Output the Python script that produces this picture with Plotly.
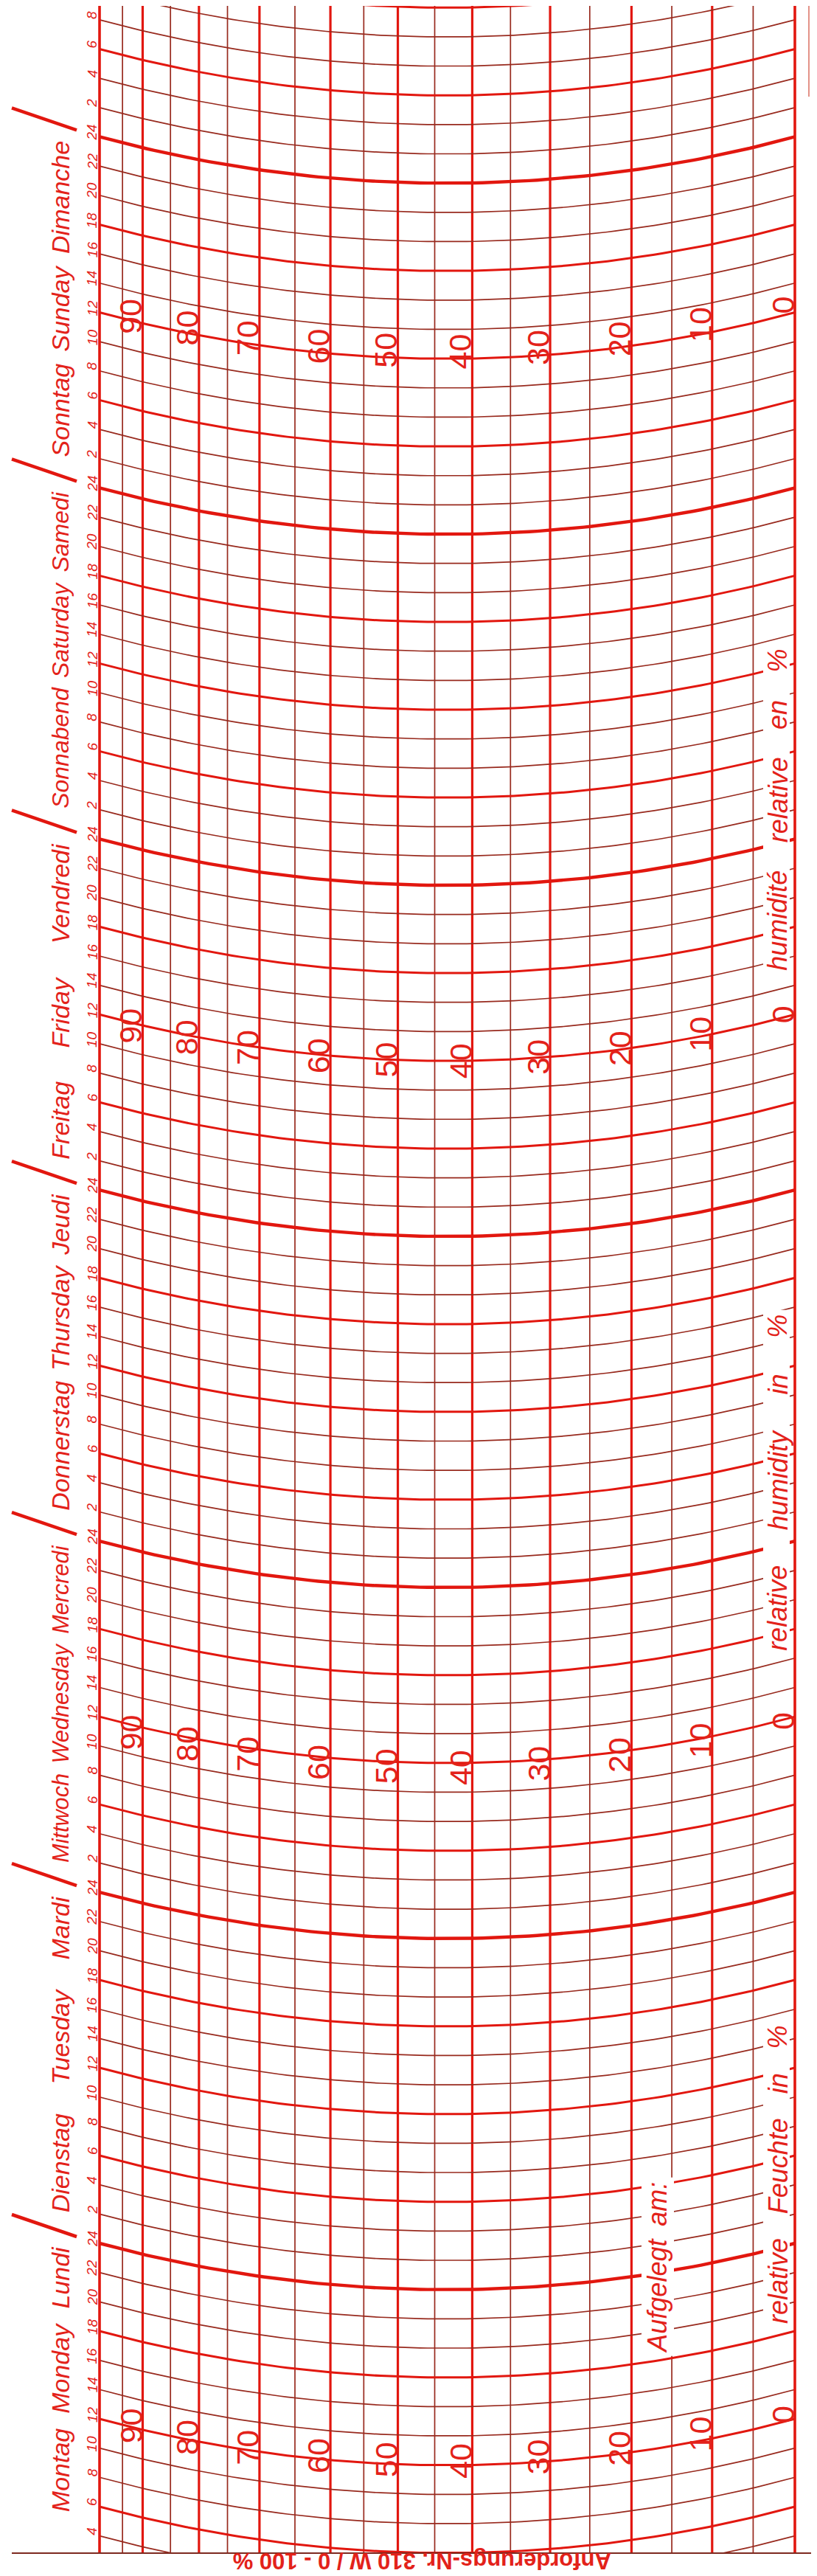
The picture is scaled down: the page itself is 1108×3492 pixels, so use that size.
import numpy as np
import plotly.graph_objects as go

# ---- values read off the hygrograph strip ----
# printed humidity scale (%) and where each line sits across the strip (0 = left edge, 1 = right edge)
humidity = [100, 95, 90, 85, 80, 75, 70, 65, 60, 55, 50, 45, 40, 35, 30, 25, 20, 15, 10, 5, 0]
scale_pos = [0.0, 0.033, 0.062, 0.102, 0.143, 0.184, 0.230, 0.281, 0.332, 0.380, 0.429,
             0.482, 0.536, 0.591, 0.648, 0.705, 0.765, 0.823, 0.881, 0.940, 1.0]

# time arcs every 2 h, counted in hours from Monday 0:00
time_lines = list(range(0, 188, 2))
hour_labels = list(range(4, 178, 2))

day_words = [
    ["Montag", "Monday", "Lundi"],
    ["Dienstag", "Tuesday", "Mardi"],
    ["Mittwoch", "Wednesday", "Mercredi"],
    ["Donnerstag", "Thursday", "Jeudi"],
    ["Freitag", "Friday", "Vendredi"],
    ["Sonnabend", "Saturday", "Samedi"],
    ["Sonntag", "Sunday", "Dimanche"],
]
day_name_start = [5.6, 26.1, 50.0, 74.1, 98.1, 122.1, 146.1]
day_name_end = [23.75, 47.7, 71.7, 95.7, 119.7, 143.7, 167.7]

scale_numbers = [90, 80, 70, 60, 50, 40, 30, 20, 10, 0]
scale_number_rows = [12.3, 59.7, 108.0, 156.5]

side_words = [
    ["Aufgelegt", "am:"],
    ["relative", "Feuchte", "in", "%"],
    ["relative", "humidity", "in", "%"],
    ["humidité", "relative", "en", "%"],
]
side_start = [16.6, 18.5, 64.5, 111.0]
side_end = [28.2, 38.9, 87.5, 133.0]

footer = "Anforderungs-Nr. 310 W / 0 - 100 %"

# ---- page geometry (pixels of the scan) ----
FIG_W, FIG_H = 1108, 3492
GRID_X0, GRID_W = 127, 943
PLOT_BOTTOM = 3453
PX_PER_H = 19.83
MON24_Y = 3033
ARC_R = 1800.0

HEAVY = "#e2170f"
THIN = "#982a1e"
TEXT = "#e3221a"
FONT = "Liberation Sans, Arial, sans-serif"

# Liberation Sans advance widths (em) for the printed words
CHAR_W = dict(zip("ABCDEFGHIJKLMNOPQRSTUVWXYZ",
                  [.667, .667, .722, .722, .667, .611, .778, .722, .278, .5, .667, .556, .833,
                   .722, .778, .667, .778, .722, .667, .611, .722, .667, .944, .667, .667, .611]))
CHAR_W.update(zip("abcdefghijklmnopqrstuvwxyz",
                  [.556, .556, .5, .556, .556, .278, .556, .556, .222, .222, .5, .222, .833,
                   .556, .556, .556, .556, .333, .5, .278, .556, .5, .722, .5, .5, .5]))
CHAR_W.update({"é": .556, "%": .889, ":": .278})


def s_of(px):
    return (px - GRID_X0) / GRID_W


def t_of(py):
    return 24 + (MON24_Y - py) / PX_PER_H


def hours(px):
    return px / PX_PER_H


SAG_EDGE = ARC_R - np.sqrt(ARC_R ** 2 - (GRID_W / 2) ** 2)


def arc(t, s):
    dx = (np.asarray(s) - 0.5) * GRID_W
    sag = ARC_R - np.sqrt(ARC_R ** 2 - dx ** 2)
    return t - (SAG_EDGE - sag) / PX_PER_H


def hum_pos(h):
    return np.interp(h, humidity[::-1], scale_pos[::-1])


def joined(segments):
    xs, ys = [], []
    for x, y in segments:
        xs += list(x) + [None]
        ys += list(y) + [None]
    return xs, ys


def em_len(word):
    return sum(CHAR_W.get(c, .556) for c in word)


def justified(words, t0, t1, x_px, size, min_gap_px=12):
    """rotated words spread evenly between t0 and t1 (reading upwards)"""
    span_px = (t1 - t0) * PX_PER_H
    total_em = sum(em_len(w) for w in words)
    size = min(size, (span_px - min_gap_px * (len(words) - 1)) / total_em)
    lens = [hours(em_len(w) * size) for w in words]
    gap = (t1 - t0 - sum(lens)) / max(len(words) - 1, 1)
    out, t = [], t0
    for w, n in zip(words, lens):
        out.append(dict(x=s_of(x_px), y=t + n / 2, text=w, textangle=-90, showarrow=False,
                        font=dict(family=FONT, size=size, color=TEXT, style="italic")))
        t += n + gap
    return out


t_bot, t_top = t_of(PLOT_BOTTOM), t_of(0)
s_line = np.linspace(0, 1, 90)

fig = go.Figure()

# vertical humidity lines
for width, color, keep in [(1.7, THIN, lambda h: h % 10 == 5),
                           (3.2, HEAVY, lambda h: h % 10 == 0 and 0 < h < 100)]:
    segs = [([p, p], [t_bot - 5, t_top + 5]) for h, p in zip(humidity, scale_pos) if keep(h)]
    x, y = joined(segs)
    fig.add_trace(go.Scatter(x=x, y=y, mode="lines", hoverinfo="skip",
                             line=dict(color=color, width=width)))

# time arcs
groups = [
    (1.7, THIN, [t for t in time_lines if t % 6 != 0]),
    (3.0, HEAVY, [t for t in time_lines if t % 6 == 0 and t % 24 != 0]),
    (4.4, HEAVY, [t for t in time_lines if t % 24 == 0]),
]
for width, color, ts in groups:
    x, y = joined([(s_line, arc(t, s_line)) for t in ts])
    fig.add_trace(go.Scatter(x=x, y=y, mode="lines", hoverinfo="skip",
                             line=dict(color=color, width=width)))

# day separators
x, y = joined([([s_of(8), s_of(96)], [t + hours(39), t + hours(9)]) for t in range(24, 169, 24)])
fig.add_trace(go.Scatter(x=x, y=y, mode="lines", hoverinfo="skip",
                         line=dict(color=HEAVY, width=4.5)))

# paper edge mark at top right
fig.add_trace(go.Scatter(x=[s_of(1089), s_of(1089)], y=[t_top + 1, t_of(123)], mode="lines",
                         hoverinfo="skip", line=dict(color="#d04a3a", width=1.2)))

side_x = [884, 1047, 1047, 1047]
side_box = [(862, 906), (1027, 1063), (1027, 1063), (1027, 1063)]

shapes = []
# white knock-outs behind the printed words inside the grid
for (x0, x1), a, b in zip(side_box, side_start, side_end):
    shapes.append(dict(type="rect", xref="x", yref="y", x0=s_of(x0), x1=s_of(x1),
                       y0=a - 0.3, y1=b + 0.3, fillcolor="white", line=dict(width=0), layer="above"))
# strip borders
for p in (0.0, 1.0):
    shapes.append(dict(type="line", xref="x", yref="paper", x0=p, x1=p, y0=0, y1=1,
                       line=dict(color=HEAVY, width=3.6), layer="above"))
shapes.append(dict(type="line", xref="x", yref="paper", x0=s_of(8), x1=s_of(1102), y0=0, y1=0,
                   line=dict(color="#7d2a20", width=2), layer="above"))

annotations = []
for t in hour_labels:
    h = t % 24
    annotations.append(dict(x=s_of(117), y=t + 0.3, text=str(h if h else 24), textangle=-90,
                            showarrow=False,
                            font=dict(family=FONT, size=19, color=TEXT, style="italic")))
for words, a, b in zip(day_words, day_name_start, day_name_end):
    annotations += justified(words, a, b, 74, 34, min_gap_px=14)
for row in scale_number_rows:
    for v in scale_numbers:
        p = hum_pos(v)
        annotations.append(dict(x=p - 16 / GRID_W, y=float(arc(row, p)), text=str(v), textangle=-90,
                                showarrow=False, font=dict(family=FONT, size=43, color=TEXT)))
for words, a, b, px in zip(side_words, side_start, side_end, side_x):
    annotations += justified(words, a, b, px, 36)
annotations.append(dict(x=s_of(565), xref="x", y=-(3483 - PLOT_BOTTOM) / PLOT_BOTTOM, yref="paper",
                        text="<b>" + footer + "</b>", textangle=180, showarrow=False,
                        font=dict(family=FONT, size=31, color=TEXT)))

fig.update_layout(
    width=FIG_W, height=FIG_H,
    margin=dict(l=0, r=0, t=0, b=FIG_H - PLOT_BOTTOM),
    paper_bgcolor="white", plot_bgcolor="white",
    showlegend=False,
    shapes=shapes, annotations=annotations,
)
fig.update_xaxes(range=[s_of(0), s_of(FIG_W)], visible=False, fixedrange=True)
fig.update_yaxes(range=[t_bot, t_top], visible=False, fixedrange=True)

fig.write_html("out.html")
